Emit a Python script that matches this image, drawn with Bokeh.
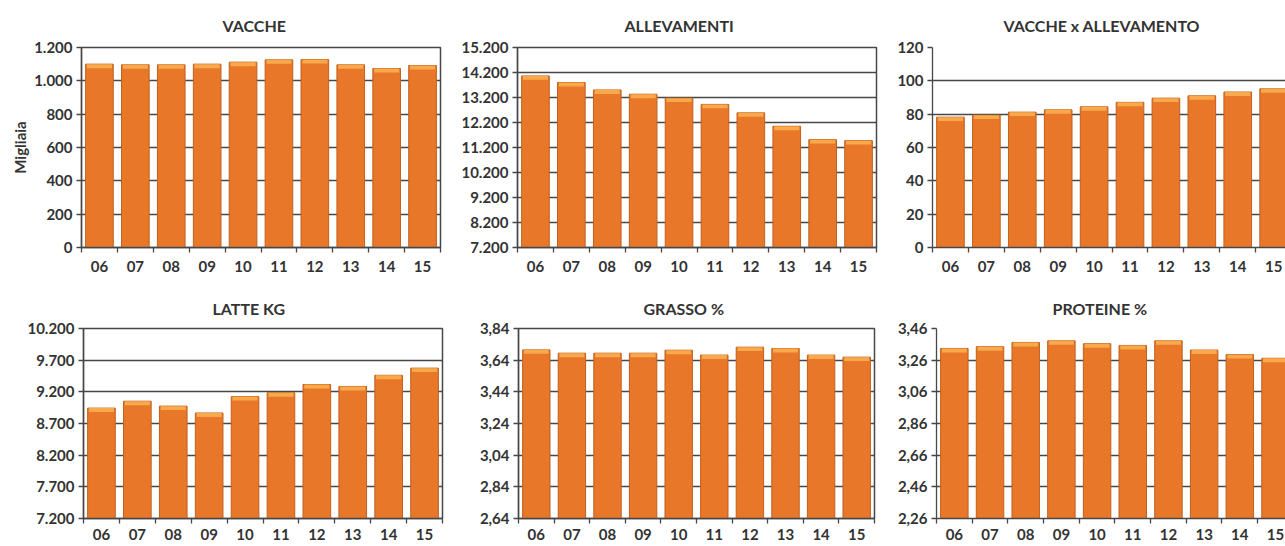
from bokeh.plotting import figure
from bokeh.layouts import row, column
from bokeh.models import FixedTicker, Range1d, Title, ColumnDataSource
from bokeh.embed import file_html
from bokeh.resources import INLINE

# Years (2006-2015)
years = ["06", "07", "08", "09", "10", "11", "12", "13", "14", "15"]

# Series
vacche = [1100, 1096, 1096, 1100, 1112, 1126, 1128, 1096, 1074, 1092]          # migliaia
allevamenti = [14063, 13801, 13501, 13331, 13174, 12925, 12586, 12050, 11514, 11474]
vacche_x_allevamento = [78.2, 79.4, 81.2, 82.6, 84.4, 87.1, 89.6, 91.0, 93.3, 95.2]
latte_kg = [8943, 9052, 8974, 8866, 9124, 9186, 9316, 9285, 9461, 9574]
grasso = [3.705, 3.684, 3.684, 3.684, 3.703, 3.672, 3.722, 3.713, 3.672, 3.659]
proteine = [3.334, 3.345, 3.372, 3.382, 3.364, 3.353, 3.382, 3.324, 3.295, 3.272]

# Y ticks and their labels (Italian number format)
vacche_ticks = [0, 200, 400, 600, 800, 1000, 1200]
vacche_labels = ["0", "200", "400", "600", "800", "1.000", "1.200"]
allev_ticks = [7200, 8200, 9200, 10200, 11200, 12200, 13200, 14200, 15200]
allev_labels = ["7.200", "8.200", "9.200", "10.200", "11.200", "12.200", "13.200", "14.200", "15.200"]
vxa_ticks = [0, 20, 40, 60, 80, 100, 120]
vxa_labels = ["0", "20", "40", "60", "80", "100", "120"]
latte_ticks = [7200, 7700, 8200, 8700, 9200, 9700, 10200]
latte_labels = ["7.200", "7.700", "8.200", "8.700", "9.200", "9.700", "10.200"]
grasso_ticks = [2.64, 2.84, 3.04, 3.24, 3.44, 3.64, 3.84]
grasso_labels = ["2,64", "2,84", "3,04", "3,24", "3,44", "3,64", "3,84"]
prot_ticks = [2.26, 2.46, 2.66, 2.86, 3.06, 3.26, 3.46]
prot_labels = ["2,26", "2,46", "2,66", "2,86", "3,06", "3,26", "3,46"]

FONT = "Lato"
TEXT = "#333333"
LINE = "#474747"
BAR = "#E8772A"
BAR_EDGE = "#C2601D"
BAR_CAP = "#F7A94C"


def panel(title, values, ticks, labels, frame_w, frame_h, b_left, b_right,
          b_top, b_bottom, title_left, title_standoff, x_end=9.5, outline=True,
          ylabel=None, x_standoff=8):
    ymin, ymax = ticks[0], ticks[-1]
    p = figure(width=b_left + frame_w + b_right, height=b_top + frame_h + b_bottom,
               x_range=Range1d(-0.5, x_end), y_range=Range1d(ymin, ymax),
               title=None, output_backend="svg", toolbar_location=None,
               min_border_left=b_left, min_border_right=b_right,
               min_border_top=b_top, min_border_bottom=b_bottom)
    p.background_fill_color = "white"
    p.border_fill_color = "white"
    p.outline_line_color = LINE if outline else None
    p.outline_line_width = 1.5

    xs = list(range(len(years)))
    px = (ymax - ymin) / frame_h          # data units per pixel
    src = ColumnDataSource(dict(x=xs, top=values,
                                cap=[v - 4 * px for v in values]))
    p.vbar(x="x", top="top", bottom=ymin, width=0.77, source=src,
           fill_color=BAR, line_color=BAR_EDGE, line_width=1)
    p.vbar(x="x", top="top", bottom="cap", width=0.70, source=src,
           fill_color=BAR_CAP, line_color=None)

    # y axis
    yax = p.yaxis[0]
    yax.ticker = FixedTicker(ticks=ticks)
    yax.major_label_overrides = dict(zip(ticks, labels))
    yax.major_tick_out = 5
    yax.major_tick_in = 0
    yax.minor_tick_out = 0
    yax.axis_line_color = LINE
    yax.axis_line_width = 1.3
    yax.major_tick_line_color = LINE
    yax.major_tick_line_width = 1.3
    yax.major_label_text_font = FONT
    yax.major_label_text_font_style = "bold"
    yax.major_label_text_font_size = "15px"
    yax.major_label_text_color = TEXT
    yax.major_label_standoff = 4
    if ylabel:
        yax.axis_label = ylabel
        yax.axis_label_text_font = FONT
        yax.axis_label_text_font_style = "bold"
        yax.axis_label_text_font_size = "15px"
        yax.axis_label_text_color = TEXT
        yax.axis_label_standoff = 2

    # x axis: labels under bars, tick marks between bars
    xax = p.xaxis[0]
    xax.ticker = FixedTicker(ticks=xs, minor_ticks=[i - 0.5 for i in range(len(years) + 1)])
    xax.major_label_overrides = dict(zip(xs, years))
    xax.major_tick_out = 0
    xax.major_tick_in = 0
    xax.minor_tick_out = 5
    xax.minor_tick_in = 0
    xax.minor_tick_line_color = LINE
    xax.minor_tick_line_width = 1.3
    xax.axis_line_color = LINE
    xax.axis_line_width = 1.3
    xax.major_label_text_font = FONT
    xax.major_label_text_font_style = "bold"
    xax.major_label_text_font_size = "15px"
    xax.major_label_text_color = TEXT
    xax.major_label_standoff = x_standoff

    p.xgrid.visible = False
    p.ygrid.ticker = FixedTicker(ticks=ticks)
    p.ygrid.grid_line_color = LINE
    p.ygrid.grid_line_width = 1.3

    p.add_layout(Title(text=title, align="left", offset=title_left,
                       standoff=title_standoff, text_font=FONT,
                       text_font_style="bold", text_font_size="16px",
                       text_color=TEXT), "above")
    return p


p1 = panel("VACCHE", vacche, vacche_ticks, vacche_labels,
           359, 200, 81, 7, 47, 38, 141, 25, ylabel="Migliaia")
p2 = panel("ALLEVAMENTI", allevamenti, allev_ticks, allev_labels,
           359, 204, 70, 5, 43, 38, 107, 25)
p3 = panel("VACCHE x ALLEVAMENTO", vacche_x_allevamento, vxa_ticks, vxa_labels,
           353, 205, 51, 0, 43, 37, 71, 25, x_end=9.33, outline=False)
p4 = panel("LATTE KG", latte_kg, latte_ticks, latte_labels,
           359, 193, 83, 6, 42, 26, 129, 21, x_standoff=5)
p5 = panel("GRASSO %", grasso, grasso_ticks, grasso_labels,
           356, 193, 70, 5, 43, 25, 125, 21, x_standoff=5)
p6 = panel("PROTEINE %", proteine, prot_ticks, prot_labels,
           349, 191, 57, 0, 42, 28, 116, 21, x_end=9.28, outline=False, x_standoff=5)

layout = column(row(p1, p2, p3, spacing=0), row(p4, p5, p6, spacing=0), spacing=0)

open("out.html", "w").write(file_html(layout, INLINE))
